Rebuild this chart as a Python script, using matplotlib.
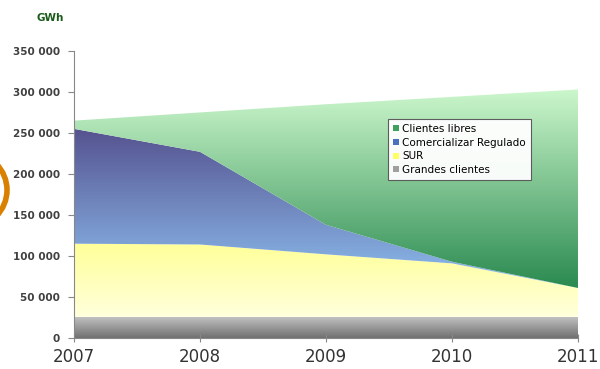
import numpy as np
import matplotlib.pyplot as plt
from matplotlib.patches import PathPatch, Patch, Ellipse
from matplotlib.colors import LinearSegmentedColormap

# Datos (GWh, valores apilados)
anios = [2007, 2008, 2009, 2010, 2011]
grandes_clientes = [26000, 26000, 26000, 26000, 26000]
sur = [89000, 88000, 76000, 65000, 35000]
comercializador = [140000, 113000, 36000, 2000, 0]
clientes_libres = [10000, 48000, 147000, 201000, 242000]

series = ["Grandes clientes", "SUR", "Comercializar Regulado", "Clientes libres"]
valores = [grandes_clientes, sur, comercializador, clientes_libres]
# colores de degradado (arriba, abajo)
degradados = [("#c4c4c4", "#707070"), ("#ffff99", "#ffffdc"),
              ("#55528f", "#8ec0f0"), ("#ccf7cc", "#2a8a50")]
colores_leyenda = ["#a0a0a0", "#ffff66", "#4a70c0", "#40a060"]

fig = plt.figure(figsize=(6, 3.69), dpi=100)
ax = fig.add_axes([0.1233, 0.084, 0.84, 0.778])

x = np.array(anios, dtype=float)
base = np.zeros(len(anios))
for nombre, vals, (c_arriba, c_abajo) in zip(series, valores, degradados):
    tope = base + np.array(vals)
    poly = ax.fill_between(x, base, tope, color="none", linewidth=0)
    patch = PathPatch(poly.get_paths()[0], facecolor="none", edgecolor="none",
                      transform=ax.transData)
    ax.add_patch(patch)
    y0, y1 = base.min(), tope.max()
    cmap = LinearSegmentedColormap.from_list(nombre, [c_abajo, c_arriba])
    grad = np.linspace(0, 1, 256).reshape(-1, 1)
    im = ax.imshow(grad, cmap=cmap, aspect="auto", origin="lower",
                   extent=[x[0], x[-1], y0, y1], zorder=1)
    im.set_clip_path(patch)
    base = tope

ax.set_xlim(2007, 2011)
ax.set_ylim(0, 350000)
ax.set_xticks(anios)
ax.set_xticklabels([str(a) for a in anios], fontsize=12, color="#333333")
yt = np.arange(0, 350001, 50000)
ax.set_yticks(yt)
ax.set_yticklabels(["0" if v == 0 else f"{v // 1000} 000" for v in yt],
                   fontsize=7.5, fontweight="bold", color="#404040")
ax.tick_params(axis="y", direction="out", length=4, color="#888888", pad=6)
ax.tick_params(axis="x", direction="inout", length=6, color="#888888", pad=4)
for s in ["top", "right"]:
    ax.spines[s].set_visible(False)
for s in ["left", "bottom"]:
    ax.spines[s].set_color("#888888")
ax.spines["bottom"].set_zorder(5)

fig.text(0.083, 0.95, "GWh", fontsize=7.5, fontweight="bold", color="#1a5a1a",
         ha="center", va="center")

handles = [Patch(facecolor=c, edgecolor="none", label=n)
           for n, c in zip(series[::-1], colores_leyenda[::-1])]
ley = ax.legend(handles=handles, loc="upper left", bbox_to_anchor=(0.613, 0.78),
                fontsize=7.5, frameon=True, fancybox=False, handlelength=0.6,
                handleheight=0.5, handletextpad=0.3, borderpad=0.45,
                labelspacing=0.35, framealpha=0.95)
ley.get_frame().set_edgecolor("#555555")
ley.get_frame().set_linewidth(0.8)

# arco naranja en el borde izquierdo
fig.patches.append(Ellipse((-0.05, 0.485), 2 * 37 / 600, 2 * 37 / 369,
                           transform=fig.transFigure, facecolor="none",
                           edgecolor="#d98000", linewidth=4, figure=fig))

fig.savefig("out.png", dpi=100)
